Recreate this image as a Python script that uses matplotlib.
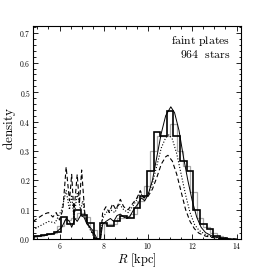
import numpy as np
import matplotlib.pyplot as plt
import matplotlib.ticker as ticker

plt.rcParams['mathtext.fontset'] = 'cm'
plt.rcParams['font.family'] = 'serif'
plt.rcParams['font.serif'] = ['DejaVu Serif']

# black histogram (bin edges in kpc, densities)
hist_edges = [4.55, 4.85, 5.15, 5.45, 5.75, 6.05, 6.35, 6.65, 6.95, 7.25, 7.55,
              7.85, 8.15, 8.45, 8.75, 9.05, 9.35, 9.65, 9.95, 10.25, 10.55,
              10.85, 11.15, 11.45, 11.75, 12.05, 12.35, 12.65, 12.95, 13.25, 13.55]
hist_vals = [0.005, 0.012, 0.015, 0.017, 0.025, 0.075, 0.05, 0.10, 0.083, 0.055,
             0.0, 0.055, 0.045, 0.06, 0.08, 0.07, 0.105, 0.145, 0.23, 0.365,
             0.35, 0.435, 0.35, 0.265, 0.23, 0.10, 0.05, 0.035, 0.012, 0.004]

# grey histogram
grey_edges = [4.7, 5.0, 5.3, 5.6, 5.9, 6.2, 6.5, 6.8, 7.1, 7.4, 7.7, 8.0, 8.3,
              8.6, 8.9, 9.2, 9.5, 9.8, 10.1, 10.4, 10.7, 11.0, 11.3, 11.6, 11.9,
              12.2, 12.5, 12.8, 13.1, 13.4, 13.7]
grey_vals = [0.008, 0.012, 0.016, 0.02, 0.045, 0.065, 0.07, 0.09, 0.075, 0.03,
             0.0, 0.05, 0.05, 0.07, 0.075, 0.085, 0.13, 0.18, 0.30, 0.35,
             0.35, 0.39, 0.30, 0.25, 0.16, 0.07, 0.04, 0.02, 0.01, 0.003]

# model curves
solid_R = [4.8, 5.3, 5.8, 6.1, 6.3, 6.45, 6.55, 6.7, 6.8, 6.95, 7.1, 7.25, 7.5,
           7.7, 7.85, 7.95, 8.1, 8.3, 8.45, 8.6, 8.75, 8.9, 9.05, 9.2, 9.35, 9.55,
           9.7, 9.85, 10.0, 10.2, 10.4, 10.6, 10.8, 11.03, 11.2, 11.4, 11.6, 11.8,
           12.0, 12.2, 12.4, 12.6, 12.9, 13.2, 13.5, 14.0]
solid_d = [0.008, 0.012, 0.02, 0.04, 0.07, 0.06, 0.04, 0.07, 0.06, 0.08, 0.075,
           0.05, 0.03, 0.0, 0.0, 0.05, 0.06, 0.07, 0.06, 0.08, 0.085, 0.075, 0.07,
           0.08, 0.10, 0.12, 0.14, 0.13, 0.15, 0.20, 0.28, 0.36, 0.42, 0.45, 0.43,
           0.37, 0.28, 0.20, 0.13, 0.075, 0.04, 0.022, 0.01, 0.004, 0.001, 0.0]

dot_R = [4.8, 5.0, 5.5, 5.8, 6.1, 6.3, 6.45, 6.55, 6.65, 6.8, 6.95, 7.05, 7.2,
         7.4, 7.6, 7.85, 7.95, 8.1, 8.3, 8.5, 8.7, 8.9, 9.1, 9.3, 9.5, 9.65, 9.8,
         10.0, 10.2, 10.4, 10.6, 10.8, 10.95, 11.1, 11.3, 11.5, 11.7, 11.9, 12.1,
         12.3, 12.6, 12.9, 13.3, 14.0]
dot_d = [0.03, 0.04, 0.06, 0.055, 0.10, 0.165, 0.10, 0.15, 0.07, 0.155, 0.10,
         0.13, 0.06, 0.03, 0.0, 0.0, 0.07, 0.09, 0.10, 0.09, 0.12, 0.10, 0.09,
         0.11, 0.135, 0.16, 0.14, 0.15, 0.19, 0.25, 0.31, 0.345, 0.355, 0.34,
         0.29, 0.22, 0.15, 0.09, 0.05, 0.03, 0.015, 0.007, 0.002, 0.0]

dash_R = [4.8, 5.0, 5.3, 5.5, 5.7, 5.85, 6.0, 6.15, 6.3, 6.45, 6.55, 6.65, 6.8,
          6.9, 7.0, 7.15, 7.3, 7.5, 7.65, 7.85, 7.95, 8.1, 8.25, 8.4, 8.55, 8.75,
          8.9, 9.1, 9.3, 9.5, 9.65, 9.8, 10.0, 10.2, 10.4, 10.6, 10.8, 10.9, 11.1,
          11.3, 11.5, 11.7, 11.9, 12.1, 12.3, 12.6, 13.0, 13.4, 14.0]
dash_d = [0.06, 0.07, 0.085, 0.09, 0.075, 0.09, 0.065, 0.10, 0.245, 0.13, 0.22,
          0.09, 0.22, 0.12, 0.235, 0.08, 0.05, 0.02, 0.0, 0.0, 0.09, 0.11, 0.09,
          0.12, 0.10, 0.135, 0.11, 0.10, 0.12, 0.14, 0.165, 0.14, 0.145, 0.17,
          0.21, 0.255, 0.28, 0.285, 0.265, 0.22, 0.16, 0.10, 0.06, 0.035, 0.02,
          0.01, 0.004, 0.001, 0.0]

fig = plt.figure(figsize=(2.68, 2.68), dpi=100)
ax = fig.add_axes([0.123, 0.108, 0.776, 0.795])

ax.stairs(grey_vals, grey_edges, color='#a8a8a8', lw=0.9)
ax.stairs(hist_vals, hist_edges, color='black', lw=1.2)
ax.plot(solid_R, solid_d, color='black', lw=0.7)
ax.plot(dot_R, dot_d, color='black', lw=0.8, ls=':')
ax.plot(dash_R, dash_d, color='black', lw=0.8, ls=(0, (4, 2.5)))

ax.set_xlim(4.8, 14.2)
ax.set_ylim(0, 0.725)
ax.xaxis.set_major_locator(ticker.MultipleLocator(2))
ax.xaxis.set_minor_locator(ticker.MultipleLocator(0.5))
ax.yaxis.set_major_locator(ticker.MultipleLocator(0.1))
ax.yaxis.set_minor_locator(ticker.MultipleLocator(0.02))
ax.xaxis.set_major_formatter(ticker.FuncFormatter(lambda v, p: r'$%d$' % v))
ax.yaxis.set_major_formatter(ticker.FuncFormatter(lambda v, p: r'$%.1f$' % v))
ax.tick_params(which='both', direction='in', top=True, right=True, labelsize=5.5, width=0.6)
ax.tick_params(which='major', length=3.5, pad=1.5)
ax.tick_params(which='minor', length=1.8)
for s in ax.spines.values():
    s.set_linewidth(0.8)

ax.set_xlabel(r'$R\ [\mathrm{kpc}]$', fontsize=9)
ax.set_ylabel(r'$\mathrm{density}$', fontsize=9.5)
ax.xaxis.set_label_coords(0.5, -0.098, transform=ax.transAxes)
ax.yaxis.set_label_coords(-0.115, 0.52, transform=ax.transAxes)
ax.xaxis.label.set_va('center')
ax.yaxis.label.set_va('center')
ax.text(0.95, 0.93, r'$\mathrm{faint\ plates}$', transform=ax.transAxes,
        ha='right', va='center', fontsize=8.5)
ax.text(0.95, 0.865, r'$\mathrm{964\ \ stars}$', transform=ax.transAxes,
        ha='right', va='center', fontsize=8.5)

plt.savefig('out.png', dpi=100)
